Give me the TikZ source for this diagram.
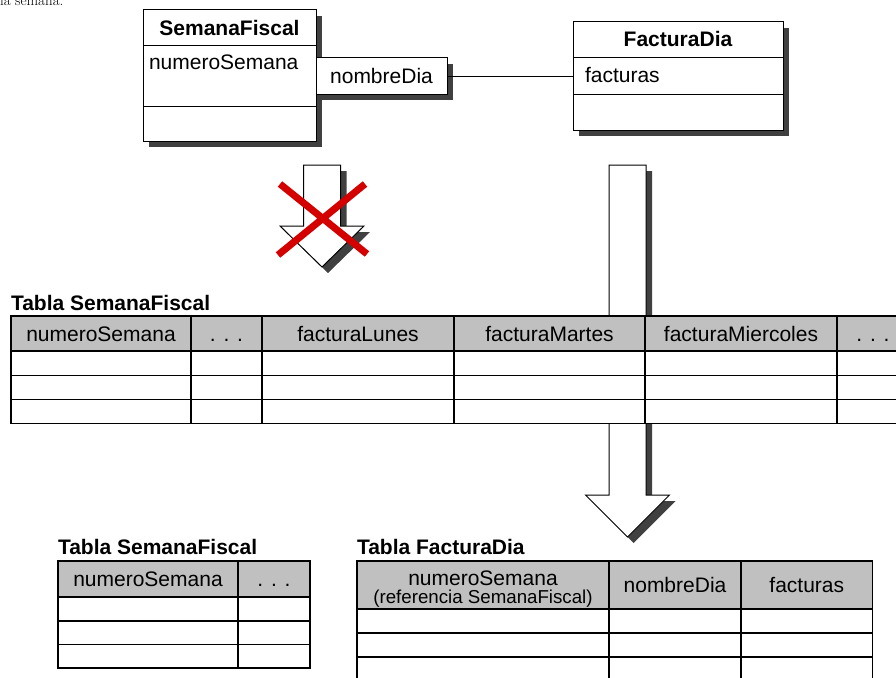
\documentclass[tikz,border=0pt]{standalone}
\usepackage{fontspec}
\newfontfamily\diagfont{Liberation Sans}
\usetikzlibrary{shadows}
\definecolor{shadowgray}{RGB}{64,64,64}
\definecolor{headgray}{RGB}{192,192,192}
\definecolor{crossred}{RGB}{212,0,0}
\newcommand\diagtext{\diagfont\fontsize{21}{25}\selectfont}
\newcommand\diagsmall{\diagfont\fontsize{18.7}{21}\selectfont}

\begin{document}
\begin{tikzpicture}[x=1pt,y=-1pt,
  every node/.style={inner sep=0pt, outer sep=0pt},
  classbox/.style={draw, line width=1pt, fill=white, anchor=north west,
    drop shadow={shadow xshift=6pt, shadow yshift=-6pt, fill=shadowgray, opacity=1}},
  compart/.style={draw, line width=1pt, anchor=north west, font=\diagtext},
  member/.style={anchor=base west, font=\diagtext},
  assoc/.style={draw, line width=0.9pt},
  tcell/.style={draw, line width=1.2pt, fill=white, anchor=north west,
    font=\diagtext, text height=15.2pt, text depth=0pt},
  thead/.style={tcell, fill=headgray},
  tlabel/.style={anchor=base west, font=\diagtext\bfseries},
  blockarrow/.style={draw, line width=1pt, fill=white, line join=miter},
  arrowshadow/.style={fill=shadowgray},
]
\useasboundingbox (0,0) rectangle (896,677);
\clip (0,0) rectangle (896,677);

% tail of the running text above the figure
\node[anchor=base west, font=\fontsize{15}{18}\selectfont] (heading) at (0,5.5) {la semana.};

% ---- UML classes ----
\node[classbox, minimum width=173, minimum height=131] (sf) at (143,10) {};
\node[compart, minimum width=173, minimum height=36, font=\diagtext\bfseries] (sf-name) at (sf.north west) {SemanaFiscal};
\node[compart, minimum width=173, minimum height=60] (sf-attrs) at (sf-name.south west) {};
\node[member] (sf-attr1) at (149,70) {numeroSemana};

\node[classbox, minimum width=131, minimum height=36, font=\diagtext] (sf-qual) at (316,58) {nombreDia};

\node[classbox, minimum width=210, minimum height=108] (fd) at (573,22) {};
\node[compart, minimum width=210, minimum height=36, font=\diagtext\bfseries,
  text height=15.2pt, text depth=3pt] (fd-name) at (fd.north west) {FacturaDia};
\node[compart, minimum width=210, minimum height=36] (fd-attrs) at (fd-name.south west) {};
\node[member] (fd-attr1) at (585,82) {facturas};

\draw[assoc] (sf-qual.east) -- (fd-attrs.west);

% ---- rejected mapping (crossed arrow) ----
\fill[arrowshadow, shift={(6,6)}] (303.5,165) -- (340.5,165) -- (340.5,226) -- (364,226)
  -- (322,267) -- (280,226) -- (303.5,226) -- cycle;
\path[blockarrow] (303.5,165) -- (340.5,165) -- (340.5,226) -- (364,226)
  -- (322,267) -- (280,226) -- (303.5,226) -- cycle;
\draw[crossred, line width=7] (280,184) -- (367,254) (365,184) -- (278,255);

% ---- accepted mapping (long arrow, passes behind the wide table) ----
\fill[arrowshadow, shift={(6,6)}] (609,165) -- (646,165) -- (646,495) -- (669.5,495)
  -- (627.5,537) -- (585.5,495) -- (609,495) -- cycle;
\path[blockarrow] (609,165) -- (646,165) -- (646,495) -- (669.5,495)
  -- (627.5,537) -- (585.5,495) -- (609,495) -- cycle;

% ---- wide table: one column per weekday ----
\node[tlabel] (big-label) at (11,310) {Tabla SemanaFiscal};
\foreach \i/\xl/\w/\t in {1/11/180/numeroSemana, 2/191/71/{. . .}, 3/262/192/facturaLunes,
    4/454/191/facturaMartes, 5/645/192/facturaMiercoles, 6/837/72/{. . .}} {
  \node[thead, minimum width=\w, minimum height=35] (big-h\i) at (\xl,316) {\t};
  \foreach \r/\yt/\h in {1/351/24.5, 2/375.5/24, 3/399.5/24}
    \node[tcell, minimum width=\w, minimum height=\h] (big-r\r c\i) at (\xl,\yt) {};
}

% ---- normalised tables ----
\node[tlabel] (sfw-label) at (58,554) {Tabla SemanaFiscal};
\foreach \i/\xl/\w/\t in {1/58/180/numeroSemana, 2/238/72/{. . .}} {
  \node[thead, minimum width=\w, minimum height=36] (sfw-h\i) at (\xl,561) {\t};
  \foreach \r/\yt/\h in {1/597/24, 2/621/23.5, 3/644.5/23.5}
    \node[tcell, minimum width=\w, minimum height=\h] (sfw-r\r c\i) at (\xl,\yt) {};
}

\node[tlabel] (fdt-label) at (357,554) {Tabla FacturaDia};
\node[thead, minimum width=252, minimum height=48] (fdt-h1) at (357,561) {};
\node[anchor=base, font=\diagtext] (fdt-h1-main) at (483,585) {numeroSemana};
\node[anchor=base, font=\diagsmall] (fdt-h1-note) at (483,603) {(referencia SemanaFiscal)};
\node[thead, minimum width=132, minimum height=48] (fdt-h2) at (609,561) {nombreDia};
\node[thead, minimum width=131.5, minimum height=48] (fdt-h3) at (741,561) {facturas};
\foreach \i/\xl/\w in {1/357/252, 2/609/132, 3/741/131.5} {
  \foreach \r/\yt in {1/609, 2/633, 3/657}
    \node[tcell, minimum width=\w, minimum height=24] (fdt-r\r c\i) at (\xl,\yt) {};
}
\end{tikzpicture}
\end{document}
